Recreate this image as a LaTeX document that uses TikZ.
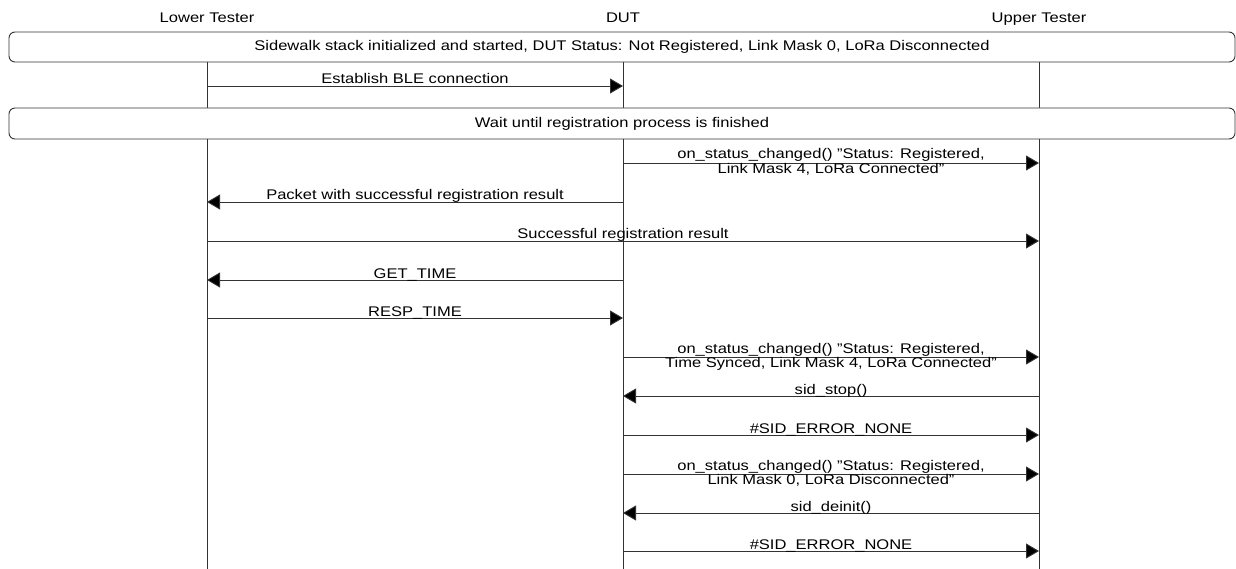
\documentclass[tikz,border=0pt]{standalone}
\usepackage{fontspec}
\setmainfont{Liberation Sans}[FakeStretch=1.18]
\usetikzlibrary{arrows.meta,calc}
\begin{document}
\begin{tikzpicture}[x=1pt,y=-1pt,
  every node/.style={font=\fontsize{14}{14.5}\selectfont, inner sep=0pt, text=black},
  life/.style={draw=black!80, line width=0.9pt},
  msg/.style={draw=black!80, line width=0.9pt, -{Triangle[length=13pt,width=15pt,fill=black]}},
  lbl/.style={anchor=base, align=center},
  lbltwo/.style={anchor=base, align=center, yshift=-12.5pt},
  phase/.style={draw=black!80, line width=0.9pt, rounded corners=6pt, fill=white}]
\useasboundingbox (0,0) rectangle (1236,569);
% headers
\node[anchor=base] (hL) at (207,23) {Lower Tester};
\node[anchor=base] (hD) at (623,23) {DUT};
\node[anchor=base] (hU) at (1039,23) {Upper Tester};
% lifelines
\foreach \n/\x in {L/207,D/623,U/1039}{
  \coordinate (\n0) at (\x,62);
  \coordinate (\n1) at (\x,108);
  \coordinate (\n2) at (\x,139);
  \coordinate (\n3) at (\x,569);
  \draw[life] (\n0) -- (\n1);
  \draw[life] (\n2) -- (\n3);
}
% phase boxes
\draw[phase] (9,32) rectangle (1235,62);
\node (p1) at (622,47) {Sidewalk stack initialized and started, DUT Status: Not Registered, Link Mask 0, LoRa Disconnected};
\draw[phase] (9,108) rectangle (1235,139);
\node (p2) at (622,124) {Wait until registration process is finished};
% message endpoints
\foreach \i/\y in {1/86,2/163,3/202,4/241,5/280,6/318,7/357,8/396,9/435,10/474,11/513,12/551}{
  \coordinate (mL\i) at (207,\y);
  \coordinate (mD\i) at (623,\y);
  \coordinate (mU\i) at (1039,\y);
}
% messages
\draw[msg] (mL1) -- (mD1);
\node[lbl] (t1) at ([yshift=2.5pt]$(mL1)!0.5!(mD1)$) {Establish BLE connection};
\draw[msg] (mD2) -- (mU2);
\node[lbltwo] (t2) at ([yshift=2pt]$(mD2)!0.5!(mU2)$) {on\_status\_changed() "Status: Registered,\\Link Mask 4, LoRa Connected"};
\draw[msg] (mD3) -- (mL3);
\node[lbl] (t3) at ([yshift=2pt]$(mL3)!0.5!(mD3)$) {Packet with successful registration result};
\draw[msg] (mL4) -- (mU4);
\node[lbl] (t4) at ([yshift=2pt]$(mL4)!0.5!(mU4)$) {Successful registration result};
\draw[msg] (mD5) -- (mL5);
\node[lbl] (t5) at ([yshift=2pt]$(mL5)!0.5!(mD5)$) {GET\_TIME};
\draw[msg] (mL6) -- (mD6);
\node[lbl] (t6) at ([yshift=2pt]$(mL6)!0.5!(mD6)$) {RESP\_TIME};
\draw[msg] (mD7) -- (mU7);
\node[lbltwo] (t7) at ([yshift=2pt]$(mD7)!0.5!(mU7)$) {on\_status\_changed() "Status: Registered,\\Time Synced, Link Mask 4, LoRa Connected"};
\draw[msg] (mU8) -- (mD8);
\node[lbl] (t8) at ([yshift=2pt]$(mD8)!0.5!(mU8)$) {sid\_stop()};
\draw[msg] (mD9) -- (mU9);
\node[lbl] (t9) at ([yshift=2pt]$(mD9)!0.5!(mU9)$) {\#SID\_ERROR\_NONE};
\draw[msg] (mD10) -- (mU10);
\node[lbltwo] (t10) at ([yshift=2pt]$(mD10)!0.5!(mU10)$) {on\_status\_changed() "Status: Registered,\\Link Mask 0, LoRa Disconnected"};
\draw[msg] (mU11) -- (mD11);
\node[lbl] (t11) at ([yshift=2pt]$(mD11)!0.5!(mU11)$) {sid\_deinit()};
\draw[msg] (mD12) -- (mU12);
\node[lbl] (t12) at ([yshift=2pt]$(mD12)!0.5!(mU12)$) {\#SID\_ERROR\_NONE};
\end{tikzpicture}
\end{document}
